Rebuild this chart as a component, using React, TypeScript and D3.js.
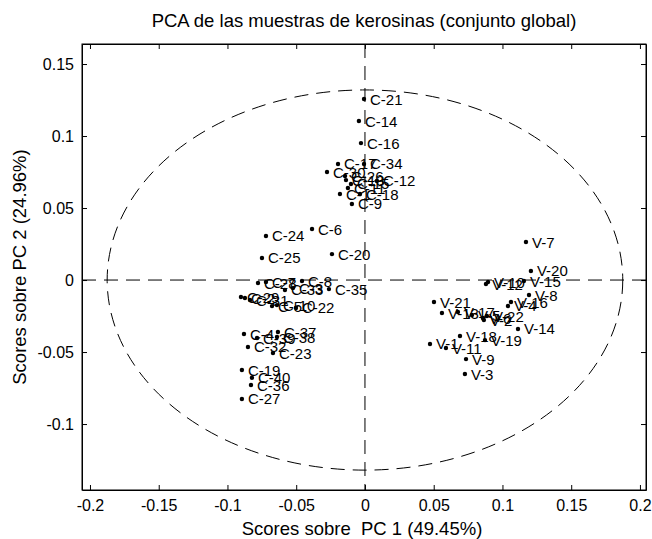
import { useEffect, useRef } from 'react';
import * as d3 from 'd3';

// PC1 / PC2 scores
const cLabels = [
  'C-21', 'C-14', 'C-16', 'C-17', 'C-34', 'C-30', 'C-13', 'C-15', 'C-12', 'C-11',
  'C-18', 'C-1', 'C-9', 'C-26', 'C-24', 'C-6', 'C-25', 'C-20', 'C-8', 'C-35',
  'C-28', 'C-7', 'C-33', 'C-3', 'C-29', 'C-2', 'C-31', 'C-10', 'C-22', 'C-5',
  'C-37', 'C-4', 'C-38', 'C-39', 'C-32', 'C-23', 'C-19', 'C-40', 'C-36', 'C-27',
];
const cPC1 = [
  -0.0007, -0.0044, -0.0029, -0.0196, -0.0007, -0.0276, -0.0138, -0.0102, 0.0087, -0.0124,
  -0.0036, -0.0182, -0.0095, -0.0145, -0.072, -0.0385, -0.0749, -0.024, -0.0458, -0.0262,
  -0.0778, -0.072, -0.0582, -0.0524, -0.0902, -0.0873, -0.0836, -0.064, -0.0502, -0.0676,
  -0.0633, -0.088, -0.064, -0.0785, -0.0851, -0.0669, -0.0895, -0.0822, -0.0829, -0.0895,
];
const cPC2 = [
  0.1257, 0.1104, 0.0951, 0.0806, 0.0806, 0.075, 0.0694, 0.0667, 0.0688, 0.0639,
  0.0597, 0.0597, 0.0528, 0.0722, 0.0306, 0.0354, 0.0153, 0.018, -0.0007, -0.0063,
  -0.0021, -0.0014, -0.0069, -0.0056, -0.0118, -0.0125, -0.0139, -0.0174, -0.0194, -0.0181,
  -0.0361, -0.0375, -0.0396, -0.0403, -0.0465, -0.0507, -0.0625, -0.0679, -0.0729, -0.0826,
];

const vLabels = [
  'V-7', 'V-20', 'V-15', 'V-12', 'V-10', 'V-8', 'V-16', 'V-21', 'V-13', 'V-17',
  'V-5', 'V-6', 'V-22', 'V-4', 'V-2', 'V-14', 'V-18', 'V-19', 'V-1', 'V-11',
  'V-9', 'V-3',
];
const vPC1 = [
  0.1171, 0.1207, 0.1156, 0.088, 0.0895, 0.1193, 0.1062, 0.0502, 0.056, 0.0676,
  0.0778, 0.0858, 0.0887, 0.104, 0.0865, 0.1113, 0.0691, 0.0873, 0.0473, 0.0589,
  0.0735, 0.0727,
];
const vPC2 = [
  0.0264, 0.0063, -0.0007, -0.0028, -0.0014, -0.0104, -0.0153, -0.0153, -0.0229, -0.0222,
  -0.0243, -0.0264, -0.025, -0.018, -0.0278, -0.034, -0.0389, -0.0417, -0.0444, -0.0472,
  -0.0549, -0.0653,
];

// confidence ellipse semi-axes (PC1, PC2)
const ellipseAxes = [0.1875, 0.132];

const xTicks = [-0.2, -0.15, -0.1, -0.05, 0, 0.05, 0.1, 0.15, 0.2];
const xTickLabels = ['-0.2', '-0.15', '-0.1', '-0.05', '0', '0.05', '0.1', '0.15', '0.2'];
const yTicks = [-0.1, -0.05, 0, 0.05, 0.1, 0.15];
const yTickLabels = ['-0.1', '-0.05', '0', '0.05', '0.1', '0.15'];

const font = '"Liberation Sans", Arial, Helvetica, sans-serif';

const App = () => {
  const ref = useRef<SVGSVGElement | null>(null);

  useEffect(() => {
    const width = 652;
    const height = 539;
    const margin = { top: 44, right: 6, bottom: 49, left: 82 };
    const w = width - margin.left - margin.right;
    const h = height - margin.top - margin.bottom;

    const svg = d3.select(ref.current);
    svg.selectAll('*').remove();

    const x = d3.scaleLinear().domain([-0.2058, 0.2044]).range([0, w]);
    const y = d3.scaleLinear().domain([-0.1458, 0.1639]).range([h, 0]);

    const g = svg.append('g').attr('transform', `translate(${margin.left},${margin.top})`);

    const xFmt = (d: d3.NumberValue) => xTickLabels[xTicks.indexOf(+d)];
    const yFmt = (d: d3.NumberValue) => yTickLabels[yTicks.indexOf(+d)];

    // axes, ticks pointing inwards like matlab
    const bottom = g.append('g').attr('transform', `translate(0,${h})`)
      .call(d3.axisBottom(x).tickValues(xTicks).tickFormat(xFmt).tickSizeInner(-5).tickSizeOuter(0).tickPadding(10));
    const left = g.append('g')
      .call(d3.axisLeft(y).tickValues(yTicks).tickFormat(yFmt).tickSizeInner(-5).tickSizeOuter(0).tickPadding(8));
    g.append('g')
      .call(d3.axisTop(x).tickValues(xTicks).tickFormat(() => '').tickSizeInner(-5).tickSizeOuter(0));
    g.append('g').attr('transform', `translate(${w},0)`)
      .call(d3.axisRight(y).tickValues(yTicks).tickFormat(() => '').tickSizeInner(-5).tickSizeOuter(0));

    [bottom, left].forEach((a) => {
      a.selectAll('text').attr('font-family', font).attr('font-size', 16).attr('fill', '#000');
    });
    g.selectAll('.domain, .tick line').attr('stroke', '#000').attr('stroke-width', 1);

    // dashed reference lines and ellipse
    const dash = '14,8';
    g.append('line')
      .attr('x1', 0).attr('x2', w).attr('y1', y(0)).attr('y2', y(0))
      .attr('stroke', '#000').attr('stroke-dasharray', dash);
    g.append('line')
      .attr('x1', x(0)).attr('x2', x(0)).attr('y1', 0).attr('y2', h)
      .attr('stroke', '#000').attr('stroke-dasharray', dash);
    g.append('ellipse')
      .attr('cx', x(0)).attr('cy', y(0))
      .attr('rx', x(ellipseAxes[0]) - x(0))
      .attr('ry', y(0) - y(ellipseAxes[1]))
      .attr('fill', 'none').attr('stroke', '#000').attr('stroke-dasharray', dash);

    const points = [
      ...cLabels.map((l, i) => ({ l, px: cPC1[i], py: cPC2[i] })),
      ...vLabels.map((l, i) => ({ l, px: vPC1[i], py: vPC2[i] })),
    ];

    g.append('g').selectAll('circle').data(points).join('circle')
      .attr('cx', (d) => x(d.px)).attr('cy', (d) => y(d.py)).attr('r', 2.2).attr('fill', '#000');

    g.append('g').selectAll('text').data(points).join('text')
      .attr('x', (d) => x(d.px) + 6).attr('y', (d) => y(d.py) + 5.5)
      .attr('font-family', font).attr('font-size', 15).attr('fill', '#000')
      .text((d) => d.l);

    // frame
    g.append('rect').attr('width', w).attr('height', h)
      .attr('fill', 'none').attr('stroke', '#000');

    svg.append('text')
      .attr('x', margin.left + w / 2).attr('y', 27)
      .attr('text-anchor', 'middle').attr('font-family', font).attr('font-size', 18.5)
      .text('PCA de las muestras de kerosinas (conjunto global)');

    svg.append('text')
      .attr('x', margin.left + w / 2 - 2).attr('y', 535)
      .attr('text-anchor', 'middle').attr('font-family', font).attr('font-size', 18.5)
      .style('white-space', 'pre')
      .text('Scores sobre  PC 1 (49.45%)');

    svg.append('text')
      .attr('transform', `translate(26,${margin.top + h / 2}) rotate(-90)`)
      .attr('text-anchor', 'middle').attr('font-family', font).attr('font-size', 18.5)
      .text('Scores sobre PC 2 (24.96%)');
  }, []);

  return (
    <svg ref={ref} width={652} height={539} style={{ position: 'absolute', left: 0, top: 0, background: '#fff' }} />
  );
};

export default App;
